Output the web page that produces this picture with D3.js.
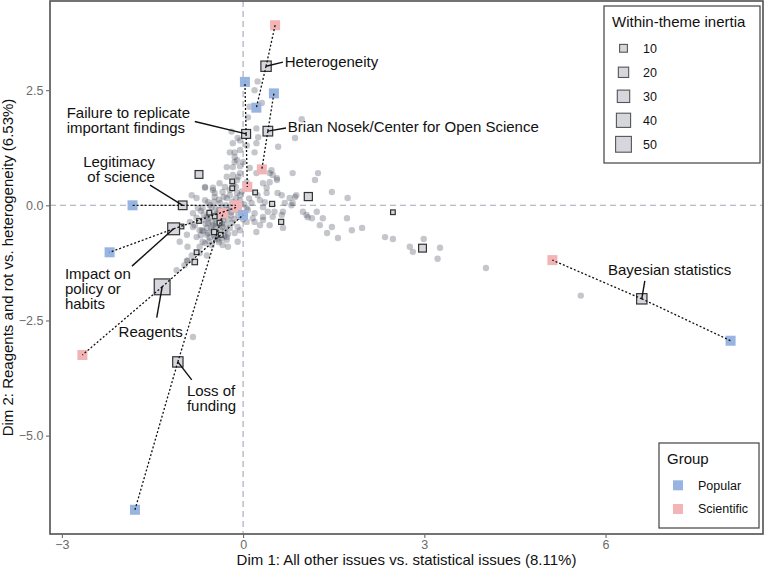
<!DOCTYPE html>
<html>
<head>
<meta charset="utf-8">
<script src="https://cdn.jsdelivr.net/npm/d3@7"></script>
<style>
    body { margin: 0; background: #fff; }
    text { font-family: "Liberation Sans", Arial, Helvetica, sans-serif; }
</style>
</head>
<body>
<div id="chart"></div>
<script>
// Labelled themes: centroid, within-theme inertia, and the two group points
const themeNames = ["Heterogeneity", "Failure to replicate important findings",
    "Brian Nosek/Center for Open Science", "Legitimacy of science",
    "Impact on policy or habits", "Reagents", "Loss of funding", "Bayesian statistics"];
const themeDim1 = [0.38, 0.05, 0.41, -1.00, -1.15, -1.34, -1.08, 6.60];
const themeDim2 = [3.02, 1.55, 1.61, 0.00, -0.51, -1.77, -3.40, -2.03];
const themeInertia = [20, 14, 17, 13, 27, 50, 20, 20];
const popularDim1 = [0.22, 0.03, 0.51, -1.83, -2.21, 0.00, -1.79, 8.07];
const popularDim2 = [2.12, 2.68, 2.43, 0.00, -1.02, -0.21, -6.61, -2.94];
const scientificDim1 = [0.53, 0.07, 0.31, -0.12, -0.10, -2.66, -0.33, 5.12];
const scientificDim2 = [3.91, 0.40, 0.78, 0.00, -0.04, -3.25, -0.17, -1.19];

// Other themes (no label): dim1, dim2, inertia
const otherThemes = [
    [-0.73, 0.67, 10], [-0.18, 0.52, 1], [-0.18, 0.37, 1], [0.20, 0.28, 1],
    [1.08, 0.19, 11], [0.48, 0.03, 2], [0.63, -0.36, 2], [-0.56, -0.16, 1],
    [-0.47, -0.24, 1], [-1.02, -0.46, 1], [-0.73, -0.34, 1], [-0.39, -0.38, 1],
    [-0.48, -0.58, 2], [-0.37, -0.64, 1], [-0.77, -1.02, 1], [-0.80, -1.23, 3],
    [2.48, -0.15, 1], [2.97, -0.93, 10]
];

// Individual responses
const individuals = [
    [0.24, 2.69], [0.19, 2.50], [0.31, 2.22], [0.11, 2.14], [0.97, 1.87], [0.08, 1.91],
    [0.22, 1.67], [0.25, 1.48], [-0.17, 1.35], [-0.14, 1.15], [0.22, 1.35], [-0.19, 1.60],
    [-0.05, 1.41], [0.19, 1.15], [0.58, 1.27], [0.86, 1.46], [-0.05, 1.20], [-0.14, 1.05],
    [0.00, 0.94], [-0.17, 0.83], [0.11, 0.81], [-0.05, 0.70], [0.22, 0.70], [-0.17, 0.66],
    [0.44, 0.70], [0.06, 1.30], [-0.10, 0.98], [0.49, 0.66], [0.64, 0.22], [0.86, 0.18],
    [0.56, 0.55], [0.82, 0.70], [1.24, 0.70], [1.19, 0.55], [0.47, 0.76], [0.33, 0.48],
    [0.39, 0.27], [0.77, 0.16], [0.88, 0.22], [1.47, 0.29], [1.73, 0.16], [0.69, 0.05],
    [0.82, 0.05], [0.99, -0.14], [1.22, -0.14], [1.05, -0.21], [1.14, -0.28], [1.32, -0.28],
    [1.72, -0.28], [1.27, -0.43], [1.47, -0.47], [1.39, -0.60], [1.57, -0.71], [1.80, -0.54],
    [1.97, -0.49], [0.41, -0.14], [0.49, -0.25], [0.33, -0.32], [0.22, -0.58], [-0.25, -0.90],
    [0.08, -0.10], [0.16, -0.28], [0.66, -0.14], [0.80, 0.00], [1.07, -0.26], [2.35, -0.69],
    [2.48, -0.73], [2.76, -0.90], [2.81, -1.01], [2.99, -0.73], [3.26, -0.92], [3.22, -1.16],
    [4.02, -1.36], [5.59, -1.96],
    [-0.63, 0.40], [-0.83, -0.47], [-0.92, -1.20], [-0.97, -1.30], [-1.10, -1.41], [-0.83, -2.86],
    [-0.05, -0.54], [-0.77, -0.27], [-0.67, -0.06], [-0.63, -0.82], [-0.72, -0.90], [-0.85, 0.22],
    [-0.63, 0.38], [-0.47, 0.27], [-0.58, 0.07], [-0.77, 0.16], [-0.27, 0.83], [-0.14, 0.94],
    [-0.22, 1.15], [-0.09, 1.46], [-0.27, 0.62], [-0.39, 0.48], [-0.50, 0.33], [-0.05, 0.22],
    [0.28, 0.11], [0.33, -0.04], [-1.05, -0.79], [-0.92, -0.90], [-0.77, -0.69], [-0.68, -0.54],
    [-0.58, -0.60], [-0.27, -0.75], [-0.34, -0.86], [-0.85, -1.09], [-0.93, -1.20],
    [-0.50, 0.38], [-0.34, 0.29], [-0.47, 0.18], [-0.27, 0.16], [-0.10, 0.27], [-0.05, 0.11],
    [-0.63, 0.11], [-0.52, -0.04], [-0.35, -0.06], [-0.22, -0.04], [0.06, -0.06], [0.14, 0.05],
    [0.19, -0.17], [0.33, -0.25], [0.36, 0.07], [0.24, 0.22], [0.39, 0.38], [0.56, 0.59],
    [0.57, 0.27], [0.52, -0.14], [0.64, -0.21], [0.66, -0.49], [0.44, -0.43], [0.28, -0.43],
    [0.19, -0.36], [0.06, -0.36], [-0.09, -0.47], [-0.22, -0.49], [-0.14, -0.60], [-0.27, -0.69],
    [-0.41, -0.75], [-0.52, -0.86], [-0.67, -0.79], [-0.60, -0.64], [-0.72, -0.54], [-0.80, -0.43],
    [-0.68, -0.32], [-0.58, -0.28], [-0.47, -0.21], [-0.39, -0.36], [-0.50, -0.43], [-0.34, -0.47],
    [-0.60, -0.49], [-0.44, -0.58], [-0.83, -0.17], [-0.75, -0.06], [-0.88, -0.36], [-0.93, -0.64],
    [-0.72, -1.04], [-0.60, -1.09], [-0.09, -0.79], [-0.22, 0.33], [0.06, 0.50], [0.44, 0.50],
    [-0.40, -0.10], [-0.30, -0.20], [-0.45, -0.30], [-0.55, -0.15], [-0.25, -0.30], [-0.35, -0.40],
    [-0.50, -0.55], [-0.42, -0.65], [-0.30, -0.55], [-0.20, -0.15], [-0.15, -0.30], [-0.62, -0.40],
    [-0.55, -0.70], [-0.38, 0.05], [-0.28, 0.00], [-0.48, 0.08], [-0.65, -0.20], [-0.70, -0.65],
    [-0.35, -0.25], [-0.45, -0.45], [-0.12, -0.10], [-0.18, 0.08], [-0.08, -0.22], [-0.58, -0.38],
    [-0.25, -0.62], [-0.40, -0.80], [-0.32, 0.18], [-0.12, 0.40], [-0.02, 0.30], [0.10, 0.15],
    [0.02, 0.02],
    [-0.43, -0.18], [-0.33, -0.32], [-0.52, -0.35], [-0.48, -0.65], [-0.38, -0.52], [-0.28, -0.42],
    [-0.60, -0.25], [-0.53, -0.48], [-0.44, -0.40], [-0.36, -0.14], [-0.26, -0.10], [-0.18, -0.38],
    [-0.66, -0.56], [-0.57, -0.78], [-0.46, -0.72], [-0.31, -0.66], [-0.40, 0.12], [-0.22, 0.22],
    [-0.10, 0.55], [-0.05, 0.85], [-0.20, -0.22], [-0.70, -0.12], [-0.12, 0.15], [0.00, -0.30],
    [-0.16, 0.46], [-0.30, 0.40], [-0.08, 0.62], [-0.55, 0.00], [-0.45, -0.08], [-0.35, -0.72]
];

// Where the repelled labels ended up (data units) and where their segments start
const labelPlacement = [
    {lines: ["Heterogeneity"], tx: 0.69, ty: 3.11, anchor: "start", sx: 0.66, sy: 3.11},
    {lines: ["Failure to replicate", "important findings"], tx: -2.92, ty: 2.01, anchor: "start", sx: -0.80, sy: 1.82},
    {lines: ["Brian Nosek/Center for Open Science"], tx: 0.74, ty: 1.70, anchor: "start", sx: 0.71, sy: 1.68},
    {lines: ["Legitimacy", "of science"], tx: -1.46, ty: 0.95, anchor: "end", sx: -1.54, sy: 0.44},
    {lines: ["Impact on", "policy or", "habits"], tx: -2.95, ty: -1.49, anchor: "start", sx: -1.84, sy: -1.32},
    {lines: ["Reagents"], tx: -1.53, ty: -2.74, anchor: "middle", sx: -1.43, sy: -2.44},
    {lines: ["Loss of", "funding"], tx: -0.93, ty: -4.02, anchor: "start", sx: -0.85, sy: -3.79},
    {lines: ["Bayesian statistics"], tx: 6.04, ty: -1.40, anchor: "start", sx: 6.65, sy: -1.64}
];

const groups = ["Popular", "Scientific"];
const groupColors = ["#98b4e0", "#f2b4b4"];
const inertiaBreaks = [10, 20, 30, 40, 50];
const xTicks = [-3, 0, 3, 6];
const yTicks = [2.5, 0, -2.5, -5];

const width = 766, height = 571;
const panel = {left: 50, right: 763, top: 1, bottom: 534};

var svg = d3.select("#chart")
    .append("svg")
    .attr("width", width)
    .attr("height", height);

// 5% expansion on both axes, like ggplot
let allX = individuals.map(d => d[0]).concat(themeDim1, popularDim1, scientificDim1);
let allY = individuals.map(d => d[1]).concat(themeDim2, popularDim2, scientificDim2);
let [x0, x1] = d3.extent(allX), [y0, y1] = d3.extent(allY);
let padX = (x1 - x0) * 0.05, padY = (y1 - y0) * 0.05;

var x = d3.scaleLinear()
    .domain([x0 - padX, x1 + padX])
    .range([panel.left, panel.right]);
var y = d3.scaleLinear()
    .domain([y0 - padY, y1 + padY])
    .range([panel.bottom, panel.top]);
var size = d3.scaleRadial()
    .domain([10, 50])
    .range([9, 17]);

// Reference lines at the origin
svg.append("line")
    .attr("x1", x(0)).attr("x2", x(0))
    .attr("y1", panel.top).attr("y2", panel.bottom)
    .style("stroke", "#a3a8b3")
    .style("stroke-width", 1.1)
    .style("stroke-dasharray", "6,4");
svg.append("line")
    .attr("x1", panel.left).attr("x2", panel.right)
    .attr("y1", y(0)).attr("y2", y(0))
    .style("stroke", "#a3a8b3")
    .style("stroke-width", 1.1)
    .style("stroke-dasharray", "6,4");

// Individual points
svg.append("g")
    .selectAll("circle")
    .data(individuals)
    .enter()
    .append("circle")
    .attr("cx", d => x(d[0]))
    .attr("cy", d => y(d[1]))
    .attr("r", 3.2)
    .style("fill", "#3d4352")
    .style("opacity", 0.3);

// Group points of every labelled theme
let groupPoints = [];
themeNames.forEach((name, i) => {
    groupPoints.push({g: 0, x: popularDim1[i], y: popularDim2[i]});
    groupPoints.push({g: 1, x: scientificDim1[i], y: scientificDim2[i]});
});
svg.append("g")
    .selectAll("rect")
    .data(groupPoints)
    .enter()
    .append("rect")
    .attr("x", d => x(d.x) - 5)
    .attr("y", d => y(d.y) - 5)
    .attr("width", 10)
    .attr("height", 10)
    .style("fill", d => groupColors[d.g]);

// Theme centroids
let centroids = otherThemes.map(d => ({x: d[0], y: d[1], v: d[2]}))
    .concat(themeNames.map((n, i) => ({x: themeDim1[i], y: themeDim2[i], v: themeInertia[i]})));
svg.append("g")
    .selectAll("rect")
    .data(centroids)
    .enter()
    .append("rect")
    .attr("x", d => x(d.x) - (size(d.v) - 1.2) / 2)
    .attr("y", d => y(d.y) - (size(d.v) - 1.2) / 2)
    .attr("width", d => size(d.v) - 1.2)
    .attr("height", d => size(d.v) - 1.2)
    .style("fill", "#d5d7dd")
    .style("stroke", "#333")
    .style("stroke-width", 1.2);

// Dotted links centroid -> each group
let links = [];
themeNames.forEach((name, i) => {
    links.push([themeDim1[i], themeDim2[i], popularDim1[i], popularDim2[i]]);
    links.push([themeDim1[i], themeDim2[i], scientificDim1[i], scientificDim2[i]]);
});
svg.append("g")
    .selectAll("line")
    .data(links)
    .enter()
    .append("line")
    .attr("x1", d => x(d[0])).attr("y1", d => y(d[1]))
    .attr("x2", d => x(d[2])).attr("y2", d => y(d[3]))
    .style("stroke", "#111")
    .style("stroke-width", 1.3)
    .style("stroke-dasharray", "2,2");

// Labels with their segments
var labels = svg.append("g");
labelPlacement.forEach((d, i) => {
    labels.append("line")
        .attr("x1", x(themeDim1[i])).attr("y1", y(themeDim2[i]))
        .attr("x2", x(d.sx)).attr("y2", y(d.sy))
        .style("stroke", "#111")
        .style("stroke-width", 1.4);
    let t = labels.append("text")
        .attr("x", x(d.tx))
        .attr("y", y(d.ty))
        .attr("text-anchor", d.anchor)
        .style("font-size", "15px")
        .style("fill", "#111");
    d.lines.forEach((line, k) => {
        t.append("tspan")
            .attr("x", x(d.tx))
            .attr("y", y(d.ty) + k * 15)
            .attr("dy", "0.35em")
            .text(line);
    });
});

// Panel border
svg.append("rect")
    .attr("x", panel.left)
    .attr("y", panel.top)
    .attr("width", panel.right - panel.left)
    .attr("height", panel.bottom - panel.top)
    .style("fill", "none")
    .style("stroke", "#505050")
    .style("stroke-width", 1.6);

// Add X axis
var xAxis = svg.append("g")
    .attr("transform", "translate(0," + panel.bottom + ")")
    .call(d3.axisBottom(x).tickValues(xTicks).tickSize(4).tickPadding(2).tickFormat(d3.format("d")));
// Add Y axis
var yAxis = svg.append("g")
    .attr("transform", "translate(" + panel.left + ",0)")
    .call(d3.axisLeft(y).tickValues(yTicks).tickSize(4).tickPadding(2.5).tickFormat(d3.format(".1f")));
[xAxis, yAxis].forEach(a => {
    a.select(".domain").remove();
    a.selectAll(".tick line").style("stroke", "#6b6b6b").style("stroke-width", 1.1);
    a.selectAll(".tick text")
        .style("fill", "#6b6b6b")
        .style("font-size", "12.5px")
        .style("font-family", "'Liberation Sans', Arial, sans-serif");
});

// Axis titles
svg.append("text")
    .attr("x", (panel.left + panel.right) / 2)
    .attr("y", 565)
    .attr("text-anchor", "middle")
    .style("font-size", "15px")
    .style("fill", "#111")
    .text("Dim 1: All other issues vs. statistical issues (8.11%)");
svg.append("text")
    .attr("transform", "translate(13," + (panel.top + panel.bottom) / 2 + ") rotate(-90)")
    .attr("text-anchor", "middle")
    .style("font-size", "15px")
    .style("fill", "#111")
    .text("Dim 2: Reagents and rot vs. heterogeneity (6.53%)");

// Legend: within-theme inertia
var leg1 = svg.append("g");
leg1.append("rect")
    .attr("x", 604).attr("y", 6)
    .attr("width", 156).attr("height", 157)
    .style("fill", "#fff")
    .style("stroke", "#505050")
    .style("stroke-width", 1.3);
leg1.append("text")
    .attr("x", 612).attr("y", 27)
    .style("font-size", "15px")
    .style("fill", "#111")
    .text("Within-theme inertia");
inertiaBreaks.forEach((v, i) => {
    let cy = 48.3 + i * 24;
    let s = size(v) - 1.2;
    leg1.append("rect")
        .attr("x", 623.5 - s / 2).attr("y", cy - s / 2)
        .attr("width", s).attr("height", s)
        .style("fill", "#d5d7dd")
        .style("stroke", "#555")
        .style("stroke-width", 1.1);
    leg1.append("text")
        .attr("x", 643).attr("y", cy)
        .attr("dy", "0.35em")
        .style("font-size", "12.5px")
        .style("fill", "#111")
        .text(v);
});

// Legend: group
var leg2 = svg.append("g");
leg2.append("rect")
    .attr("x", 659).attr("y", 443)
    .attr("width", 100).attr("height", 85)
    .style("fill", "#fff")
    .style("stroke", "#505050")
    .style("stroke-width", 1.3);
leg2.append("text")
    .attr("x", 667).attr("y", 464)
    .style("font-size", "15px")
    .style("fill", "#111")
    .text("Group");
groups.forEach((g, i) => {
    let cy = 485.3 + i * 23.7;
    leg2.append("rect")
        .attr("x", 673).attr("y", cy - 5)
        .attr("width", 10).attr("height", 10)
        .style("fill", groupColors[i]);
    leg2.append("text")
        .attr("x", 698).attr("y", cy)
        .attr("dy", "0.35em")
        .style("font-size", "12.5px")
        .style("fill", "#111")
        .text(g);
});
</script>
</body>
</html>
